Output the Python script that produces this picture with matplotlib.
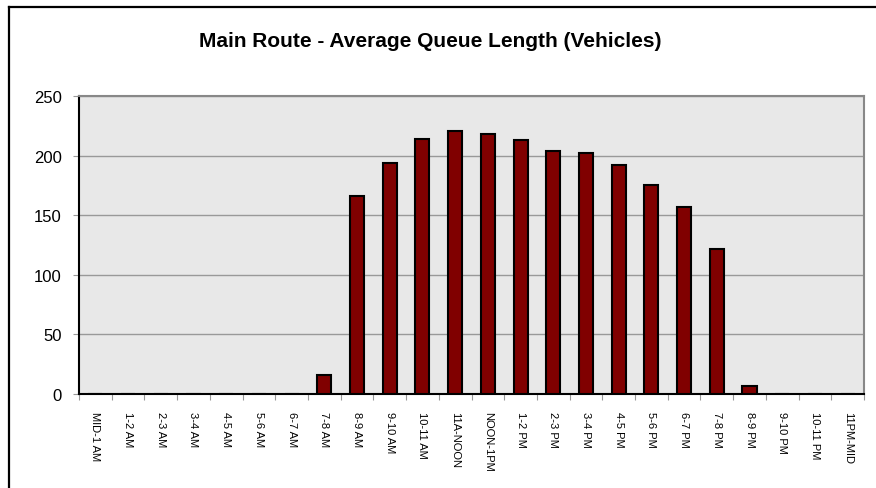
import matplotlib
matplotlib.use('Agg')
import matplotlib.pyplot as plt
from matplotlib.lines import Line2D

plt.rcParams['font.family'] = ['Liberation Sans', 'DejaVu Sans']

# time periods and average queue length
periods = ['MID-1 AM', '1-2 AM', '2-3 AM', '3-4 AM', '4-5 AM', '5-6 AM', '6-7 AM',
           '7-8 AM', '8-9 AM', '9-10 AM', '10-11 AM', '11A-NOON', 'NOON-1PM',
           '1-2 PM', '2-3 PM', '3-4 PM', '4-5 PM', '5-6 PM', '6-7 PM', '7-8 PM',
           '8-9 PM', '9-10 PM', '10-11 PM', '11PM-MID']
queue = [0, 0, 0, 0, 0, 0, 0, 16, 166, 194, 214, 221, 218, 213, 204, 202,
         192, 175, 157, 122, 7, 0, 0, 0]
yticks = [0, 50, 100, 150, 200, 250]

fig = plt.figure(figsize=(8.76, 4.89), dpi=100)
ax = fig.add_axes([0.0902, 0.1922, 0.8961, 0.6094])
ax.set_facecolor('#e8e8e8')

x = list(range(len(periods)))
ax.bar(x, queue, width=0.43, color='#800000', edgecolor='black', linewidth=1.5, zorder=3)

ax.set_xlim(-0.5, len(periods) - 0.5)
ax.set_ylim(0, 250)
ax.set_yticks(yticks)
ax.set_yticklabels([str(v) for v in yticks], fontsize=12)
ax.yaxis.grid(True, color='#999999', linewidth=1)
ax.set_axisbelow(True)

# category ticks between bars
ax.set_xticks([i - 0.5 for i in range(len(periods) + 1)])
ax.set_xticklabels([])
ax.set_xticks(x, minor=True)
ax.set_xticklabels(periods, minor=True, rotation=270, fontsize=8, va='top', ha='center')
ax.tick_params(axis='x', which='minor', length=0, pad=12)
ax.tick_params(axis='x', which='major', length=4, color='#999999')
ax.tick_params(axis='y', length=4.5, color='#999999', pad=8)

ax.spines['left'].set_color('black')
ax.spines['bottom'].set_color('black')
ax.spines['left'].set_linewidth(1.5)
ax.spines['bottom'].set_linewidth(1.5)
ax.spines['top'].set_color('#888888')
ax.spines['right'].set_color('#888888')
ax.spines['top'].set_linewidth(1.5)
ax.spines['right'].set_linewidth(1.5)

fig.text(0.491, 0.915, 'Main Route - Average Queue Length (Vehicles)',
         ha='center', va='center', fontsize=15, fontweight='bold')

# outer chart border (left and top visible)
fig.add_artist(Line2D([8.5 / 876, 8.5 / 876], [0, 1 - 7.5 / 489], color='black', linewidth=1.6))
fig.add_artist(Line2D([8.5 / 876, 1], [1 - 7.5 / 489, 1 - 7.5 / 489], color='black', linewidth=1.6))

fig.savefig('out.png', dpi=100)
